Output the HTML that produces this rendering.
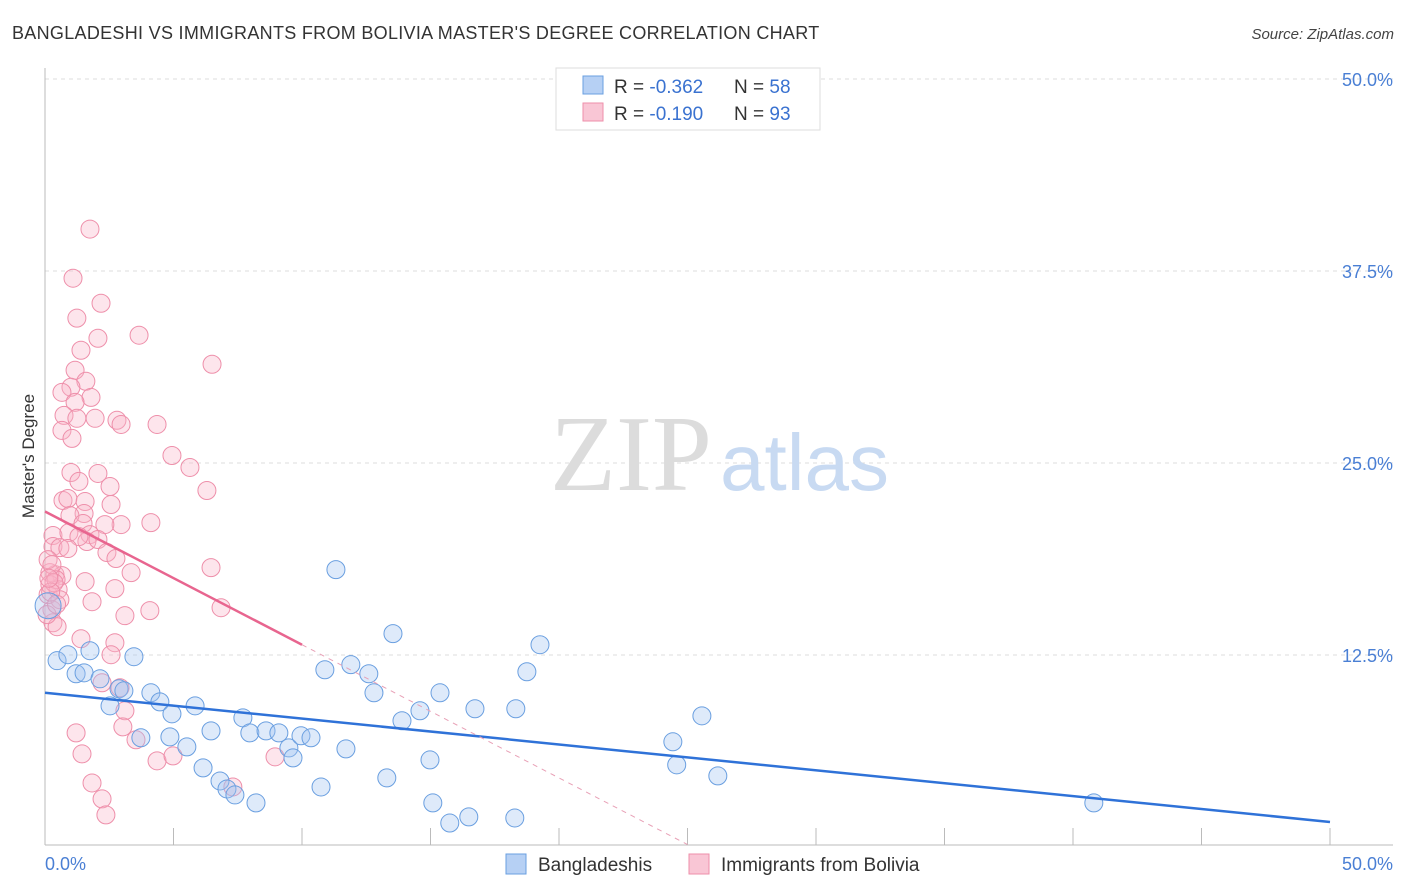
<!DOCTYPE html>
<html><head><meta charset="utf-8"><style>
body{margin:0;background:#fff;font-family:"Liberation Sans",sans-serif;}
svg{display:block}
</style></head><body>
<svg id="chart" width="1406" height="892" xmlns="http://www.w3.org/2000/svg">
<text x="12" y="39" font-size="18" letter-spacing="0.3" fill="#333">BANGLADESHI VS IMMIGRANTS FROM BOLIVIA MASTER'S DEGREE CORRELATION CHART</text>
<text x="1394" y="39" font-size="15" fill="#444" font-style="italic" text-anchor="end">Source: ZipAtlas.com</text>
<g id="grid"></g>
<g>
<text x="712" y="490" font-size="108" font-family="Liberation Serif,serif" fill="#dcdcdc" text-anchor="end">ZIP</text>
<text x="720" y="490" font-size="80" fill="#c8daf2">atlas</text>
</g>
<g id="axes"></g>
<g id="pts"></g>
<g id="lines"></g>
<g>
<rect x="556" y="68" width="264" height="62" fill="#fff" stroke="#ddd"/>
<rect x="583" y="76" width="20" height="18" fill="#b6d0f4" stroke="#6a9fe0"/>
<rect x="583" y="103" width="20" height="18" fill="#f9c6d5" stroke="#ee8faa"/>
<text x="614" y="93" font-size="19" fill="#333">R = <tspan fill="#3a72d0">-0.362</tspan></text>
<text x="734" y="93" font-size="19" fill="#333">N = <tspan fill="#3a72d0">58</tspan></text>
<text x="614" y="120" font-size="19" fill="#333">R = <tspan fill="#3a72d0">-0.190</tspan></text>
<text x="734" y="120" font-size="19" fill="#333">N = <tspan fill="#3a72d0">93</tspan></text>
</g>
<g>
<rect x="506" y="854" width="20" height="20" fill="#b6d0f4" stroke="#6a9fe0"/>
<text x="538" y="871" font-size="19" fill="#333">Bangladeshis</text>
<rect x="689" y="854" width="20" height="20" fill="#f9c6d5" stroke="#ee8faa"/>
<text x="721" y="871" font-size="19" fill="#333">Immigrants from Bolivia</text>
</g>
<text transform="translate(34,456) rotate(-90)" font-size="17" fill="#333" text-anchor="middle">Master's Degree</text>
</svg>
<script>
const yTicks=[12.5,25,37.5,50];
const yTickLabels=["12.5%","25.0%","37.5%","50.0%"];
const xTickLabels=["0.0%","50.0%"];
const blueX=[11.32,13.54,19.26,0.47,0.89,1.75,3.46,10.89,11.90,12.60,18.75,1.21,1.52,2.14,2.88,3.07,4.12,4.47,4.94,5.84,2.53,3.73,4.86,5.52,6.46,7.70,7.97,8.60,9.10,9.49,9.65,9.96,10.35,11.71,12.80,13.89,14.59,15.37,16.73,18.32,6.15,6.81,7.08,7.39,8.21,10.74,13.30,14.98,15.09,15.75,16.49,18.28,24.43,24.58,25.56,26.18,40.81,0.12];
const blueY=[18.06,13.89,13.17,12.13,12.52,12.78,12.39,11.54,11.87,11.28,11.41,11.28,11.34,10.95,10.30,10.17,10.04,9.45,8.67,9.19,9.19,7.11,7.17,6.52,7.56,8.41,7.43,7.56,7.43,6.45,5.80,7.24,7.11,6.39,10.04,8.22,8.87,10.04,9.00,9.00,5.15,4.30,3.78,3.39,2.87,3.91,4.50,5.67,2.87,1.56,1.96,1.89,6.85,5.35,8.54,4.63,2.87,15.71];
const pinkX=[1.75,1.09,2.18,1.24,2.06,3.66,1.40,6.50,1.17,1.59,1.01,0.66,1.79,1.17,0.74,1.24,1.95,2.80,2.96,4.36,0.66,1.05,4.94,5.64,1.01,2.06,1.32,2.53,6.30,0.70,0.89,1.56,2.57,1.52,0.97,1.48,2.96,4.12,2.33,0.31,0.93,1.75,1.63,2.06,1.32,0.31,0.58,0.89,2.41,2.76,6.46,0.39,0.66,0.19,3.35,1.56,2.72,1.83,3.11,4.08,6.85,0.27,0.31,0.47,1.40,2.72,2.57,2.22,2.92,3.11,3.03,3.54,1.21,1.44,4.36,4.98,8.95,7.31,1.83,2.22,2.37,0.12,0.19,0.08,0.51,0.43,0.58,0.12,0.27,0.35,0.22,0.45,0.15];
const pinkY=[40.23,37.03,35.40,34.43,33.12,33.32,32.34,31.43,31.04,30.32,29.93,29.60,29.27,28.95,28.10,27.91,27.91,27.78,27.51,27.51,27.12,26.60,25.49,24.71,24.38,24.32,23.80,23.47,23.21,22.56,22.69,22.49,22.30,21.71,21.58,21.06,20.99,21.12,20.99,20.28,20.47,20.34,19.89,20.02,20.21,19.56,19.49,19.43,19.17,18.78,18.19,17.73,17.67,17.86,17.86,17.28,16.82,15.97,15.06,15.39,15.58,15.45,14.60,14.34,13.56,13.30,12.52,10.69,10.37,8.87,7.82,6.98,7.43,6.06,5.61,5.93,5.87,3.91,4.17,3.13,2.09,16.43,17.08,15.13,16.76,17.41,16.10,18.71,18.38,17.20,16.60,15.80,17.50];
const blueTrend=[10.04,1.63];
const pinkTrend=[21.84,13.17,0.16];
const X0=45,X1=1330,Y0=847,Y50=79;
const sx=v=>X0+(X1-X0)*v/50;
const sy=v=>Y0-(Y0-Y50)*v/50;
const NS="http://www.w3.org/2000/svg";
function mk(t,a,p){const e=document.createElementNS(NS,t);for(const k in a)e.setAttribute(k,a[k]);p.appendChild(e);return e;}
const grid=document.getElementById('grid'),axes=document.getElementById('axes'),pts=document.getElementById('pts'),lines=document.getElementById('lines');
yTicks.forEach((t,i)=>{
 const g=mk('line',{x1:45,x2:1393,y1:sy(t),y2:sy(t),stroke:'#ddd','stroke-dasharray':'4,4'},grid);
 
 
 const l=mk('text',{x:1393,y:sy(t)+7,'font-size':18,fill:'#4a7fd4','text-anchor':'end'},axes);
 
 
 l.textContent=yTickLabels[i];
});
mk('line',{x1:45,x2:45,y1:68,y2:845,stroke:'#bbb'},axes);
mk('line',{x1:45,x2:1393,y1:845,y2:845,stroke:'#bbb'},axes);
for(let i=0;i<=10;i++){const t=mk('line',{x1:sx(i*5),x2:sx(i*5),y1:828,y2:845,stroke:'#bbb'},axes);
 
 }
[[0,'start',45],[1,'end',1393]].forEach(([i,a,x])=>{const l=mk('text',{x:x,y:870,'font-size':18,fill:'#4a7fd4','text-anchor':a},axes);
 
 
 l.textContent=xTickLabels[i];});
pinkX.forEach((x,i)=>{const c=mk('circle',{cx:sx(x),cy:sy(pinkY[i]),r:9,fill:'rgba(248,180,200,0.35)',stroke:'#ee8faa','stroke-width':1},pts);
 
 });
blueX.forEach((x,i)=>{const c=mk('circle',{cx:sx(x),cy:sy(blueY[i]),r:i==blueX.length-1?13:9,fill:'rgba(160,196,240,0.35)',stroke:'#6a9fe0','stroke-width':1},pts);
 
 });
const b=mk('line',{x1:sx(0),y1:sy(blueTrend[0]),x2:sx(50),y2:sy(blueTrend[1]),stroke:'#2f72d8','stroke-width':2.5},lines);


const p=mk('line',{x1:sx(0),y1:sy(pinkTrend[0]),x2:sx(10),y2:sy(pinkTrend[1]),stroke:'#e8658f','stroke-width':2.5},lines);


const pd=mk('line',{x1:sx(10),y1:sy(pinkTrend[1]),x2:sx(25),y2:sy(pinkTrend[2]),stroke:'#e8a0b6','stroke-width':1,'stroke-dasharray':'5,5'},lines);


</script>
</body></html>
